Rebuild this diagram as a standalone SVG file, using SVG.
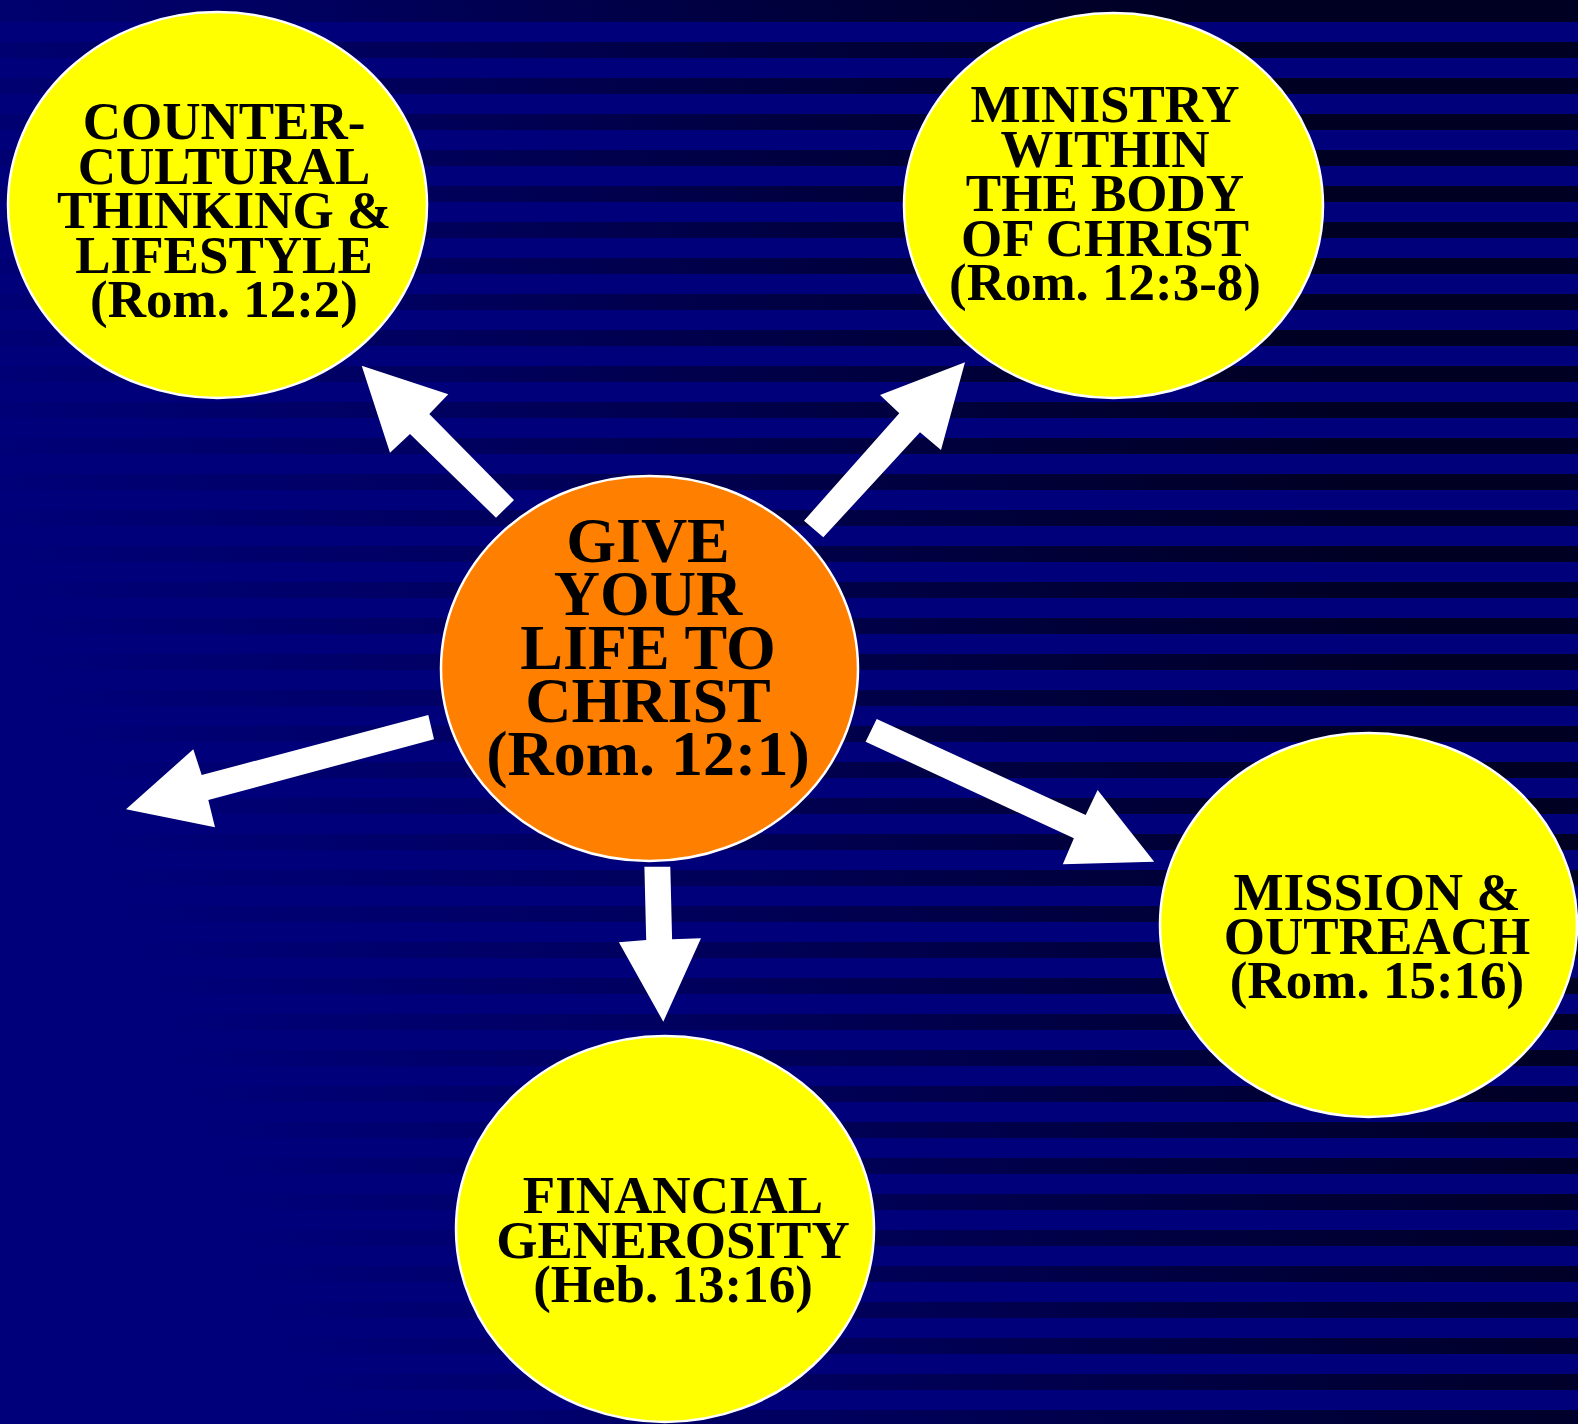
<svg xmlns="http://www.w3.org/2000/svg" width="1578" height="1424" viewBox="0 0 1578 1424">
  <defs>
    <style>
      .node { stroke: #FFFFFF; stroke-width: 2.5; }
      .yellow { fill: #FFFF00; }
      .orange { fill: #FF8000; }
      .lbl { font-family: "Liberation Serif", "Times New Roman", serif; font-weight: bold; fill: #000000; text-anchor: middle; }
      .sm { font-size: 53px; }
      .lg { font-size: 64px; }
      .arrow { fill: #FFFFFF; }
    </style>
    <pattern id="stripes" x="0" y="6" width="1578" height="36" patternUnits="userSpaceOnUse">
      <rect x="0" y="0" width="1578" height="16" fill="#FFFFFF"/>
    </pattern>
    <mask id="stripeMask" maskUnits="userSpaceOnUse" x="0" y="0" width="1578" height="1424">
      <rect x="0" y="0" width="1578" height="1424" fill="url(#stripes)"/>
      <rect x="0" y="0" width="1578" height="22" fill="#FFFFFF"/>
    </mask>
    <linearGradient id="darkGrad" gradientUnits="userSpaceOnUse" x1="150" y1="1000" x2="1400" y2="550">
      <stop offset="0" stop-color="#00007A"/>
      <stop offset="0.35" stop-color="#000060"/>
      <stop offset="0.75" stop-color="#000038"/>
      <stop offset="1" stop-color="#000022"/>
    </linearGradient>
  </defs>

  <g id="background">
    <rect x="0" y="0" width="1578" height="1424" fill="#00007A"/>
    <rect x="0" y="0" width="1578" height="1424" fill="url(#darkGrad)" mask="url(#stripeMask)"/>
  </g>

  <g id="connectors">
    <polygon class="arrow" points="514,500 429.3,414 448.3,394.3 361.7,365.7 390,452.7 410,434 496,517.7"/>
    <polygon class="arrow" points="823.3,537.3 920,432.3 941,450 965,362.3 880,395 899.3,413.3 804,520.7"/>
    <polygon class="arrow" points="428.3,715 201.7,775 193.3,749.3 126,809.3 215,827.3 208.3,800 434,739.3"/>
    <polygon class="arrow" points="876.7,719 1085.7,815 1097.6,790 1154.2,861.7 1062.8,864.3 1073.9,838.3 865.6,741.7"/>
    <polygon class="arrow" points="670.3,866.7 672.1,939.3 701,938.3 663.3,1021.7 618.9,942.3 646.2,940 644.4,866.7"/>
  </g>

  <g id="node-center">
    <ellipse class="node orange" cx="649.5" cy="668.5" rx="208.5" ry="192.5"/>
    <text class="lbl lg" x="648" y="562">GIVE</text>
    <text class="lbl lg" x="648" y="615">YOUR</text>
    <text class="lbl lg" x="648" y="668.5">LIFE TO</text>
    <text class="lbl lg" x="648" y="722">CHRIST</text>
    <text class="lbl lg" x="648" y="775">(Rom. 12:1)</text>
  </g>

  <g id="node-counter-cultural">
    <ellipse class="node yellow" cx="217.5" cy="205" rx="209.5" ry="193"/>
    <text class="lbl sm" x="224" y="139">COUNTER-</text>
    <text class="lbl sm" x="224" y="183.5">CULTURAL</text>
    <text class="lbl sm" x="224" y="228">THINKING &amp;</text>
    <text class="lbl sm" x="224" y="272.5">LIFESTYLE</text>
    <text class="lbl sm" x="224" y="317">(Rom. 12:2)</text>
  </g>

  <g id="node-ministry">
    <ellipse class="node yellow" cx="1113.5" cy="205.5" rx="209.5" ry="192.5"/>
    <text class="lbl sm" x="1105" y="122">MINISTRY</text>
    <text class="lbl sm" x="1105" y="166.5">WITHIN</text>
    <text class="lbl sm" x="1105" y="211">THE BODY</text>
    <text class="lbl sm" x="1105" y="255.5">OF CHRIST</text>
    <text class="lbl sm" x="1105" y="300">(Rom. 12:3-8)</text>
  </g>

  <g id="node-mission">
    <ellipse class="node yellow" cx="1368.5" cy="925" rx="208.5" ry="192"/>
    <text class="lbl sm" x="1377" y="910">MISSION &amp;</text>
    <text class="lbl sm" x="1377" y="954">OUTREACH</text>
    <text class="lbl sm" x="1377" y="998">(Rom. 15:16)</text>
  </g>

  <g id="node-financial">
    <ellipse class="node yellow" cx="665" cy="1229" rx="209" ry="193"/>
    <text class="lbl sm" x="673" y="1213">FINANCIAL</text>
    <text class="lbl sm" x="673" y="1258">GENEROSITY</text>
    <text class="lbl sm" x="673" y="1302">(Heb. 13:16)</text>
  </g>
</svg>
